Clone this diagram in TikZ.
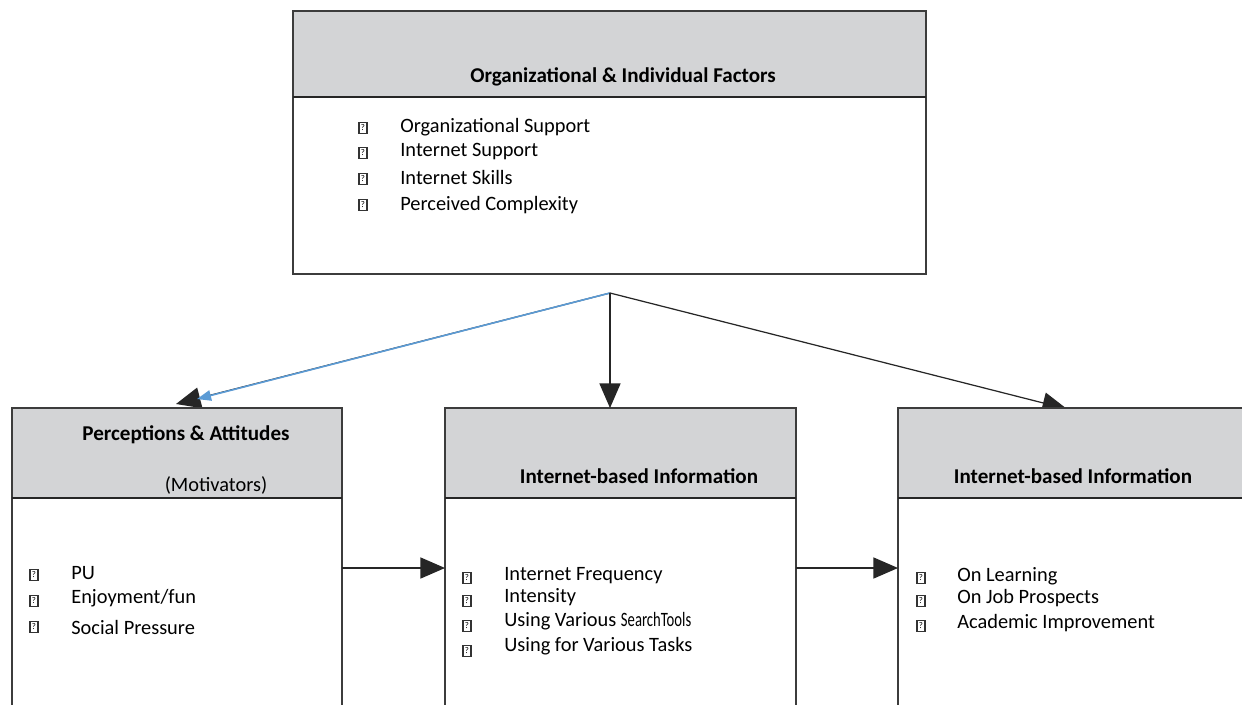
\documentclass[tikz,border=0pt]{standalone}
\usepackage{fontspec}
\setmainfont{Carlito}
\usetikzlibrary{arrows.meta}
\pgfdeclarelayer{bg}
\pgfsetlayers{bg,main}
\definecolor{hdrgray}{RGB}{211,212,214}
\definecolor{boxline}{RGB}{60,60,60}
\definecolor{linkblue}{RGB}{91,155,213}
\tikzset{
  panel/.style={draw=boxline, line width=0.9pt, fill=white, inner sep=0pt, outer sep=0pt, anchor=north west},
  hdr/.style={draw=boxline, line width=0.9pt, fill=hdrgray, inner sep=0pt, outer sep=0pt, anchor=north west},
  sepline/.style={draw=black!85, line width=1.6pt},
  title/.style={font=\fontsize{12}{14}\selectfont\bfseries, inner sep=0pt},
  item/.style={font=\fontsize{11.6}{13}\selectfont, anchor=west, inner sep=0pt},
  tofu/.style={draw=black!80, line width=0.8pt, minimum width=0.16cm, minimum height=0.23cm, inner sep=0pt,
               font=\fontsize{5}{5}\selectfont},
  link/.style={draw=black!85, line width=0.7pt, -{Triangle[width=12pt,length=14pt]}},
  bluelink/.style={draw=linkblue, line width=0.9pt, -{Triangle[width=6pt,length=8pt]}}
}
\begin{document}
\begin{tikzpicture}[x=0.02cm, y=-0.02cm]
\clip (0,0) rectangle (1242,704);
\begin{pgfonlayer}{bg}
  \fill[white] (0,0) rectangle (1242,704);
\end{pgfonlayer}

% ---- top panel: organizational & individual factors
\node[panel, minimum width=12.66cm, minimum height=5.26cm] (top) at (293,11) {};
\node[hdr, minimum width=12.66cm, minimum height=1.72cm] (topH) at (293,11) {};
\draw[sepline] (topH.south west) -- (topH.south east);
\node[title] (topT) at (623,77) {Organizational \& Individual Factors};
\foreach \y/\ty/\txt [count=\i] in {128/127/{Organizational Support}, 153/152/{Internet Support},
                                    179/177/{Internet Skills}, 205/205/{Perceived Complexity}}{
  \node[tofu] (topB\i) at (363,\y) {?};
  \node[item] (topI\i) at (400,\ty) {\txt};
}

% ---- lower left panel: perceptions & attitudes
\node[panel, minimum width=6.6cm, minimum height=6.5cm] (pa) at (12,408) {};
\node[hdr, minimum width=6.6cm, minimum height=1.8cm] (paH) at (12,408) {};
\draw[sepline] (paH.south west) -- (paH.south east);
\node[title] (paT) at (186,435) {Perceptions \& Attitudes};
\node[item, anchor=center] (paS) at (216,485) {(Motivators)};
\node[tofu] (paB1) at (34,575) {?};
\node[item] (paI1) at (71,573) {PU};
\node[tofu] (paB2) at (34,601) {?};
\node[item] (paI2) at (71,598) {Enjoyment/fun};
\node[tofu] (paB3) at (34,627) {?};
\node[item] (paI3) at (71,627) {Social Pressure};

% ---- lower middle panel: internet-based information use
\node[panel, minimum width=7.02cm, minimum height=6.5cm] (ib) at (445,408) {};
\node[hdr, minimum width=7.02cm, minimum height=1.8cm] (ibH) at (445,408) {};
\draw[sepline] (ibH.south west) -- (ibH.south east);
\node[title] (ibT) at (639,476) {Internet-based Information};
\node[tofu] (ibB1) at (467,578) {?};
\node[item] (ibI1) at (504,576) {Internet Frequency};
\node[tofu] (ibB2) at (467,601) {?};
\node[item] (ibI2) at (504,597) {Intensity};
\node[tofu] (ibB3) at (467,626) {?};
\node[item] (ibI3) at (504,621) {Using Various \scalebox{0.72}[1]{SearchTools}};
\node[tofu] (ibB4) at (467,651) {?};
\node[item] (ibI4) at (504,646) {Using for Various Tasks};

% ---- lower right panel: internet-based information outcomes
\node[panel, minimum width=7.4cm, minimum height=6.5cm] (io) at (898,408) {};
\node[hdr, minimum width=7.4cm, minimum height=1.8cm] (ioH) at (898,408) {};
\draw[sepline] (ioH.south west) -- (ioH.south east);
\node[title] (ioT) at (1073,476) {Internet-based Information};
\node[tofu] (ioB1) at (921,578) {?};
\node[item] (ioI1) at (957,576) {On Learning};
\node[tofu] (ioB2) at (921,601) {?};
\node[item] (ioI2) at (957,598) {On Job Prospects};
\node[tofu] (ioB3) at (921,626) {?};
\node[item] (ioI3) at (957,623) {Academic Improvement};

% ---- connectors (the two slanted heads run under the panel tops)
\coordinate (src) at (610,293);
\coordinate (paEnd) at (176,404);
\coordinate (paBlue) at (197,399);
\coordinate (ioEnd) at (1067,409);
\begin{pgfonlayer}{bg}
  \draw[link] (src) -- (paEnd);
  \draw[link] (src) -- (ioEnd);
\end{pgfonlayer}
\draw[bluelink] (src) -- (paBlue);
\draw[link] (src) -- (src |- ibH.north);
\draw[link] (pa.east |- 0,568) -- (ib.west |- 0,568);
\draw[link] (ib.east |- 0,568) -- (io.west |- 0,568);
\end{tikzpicture}
\end{document}
